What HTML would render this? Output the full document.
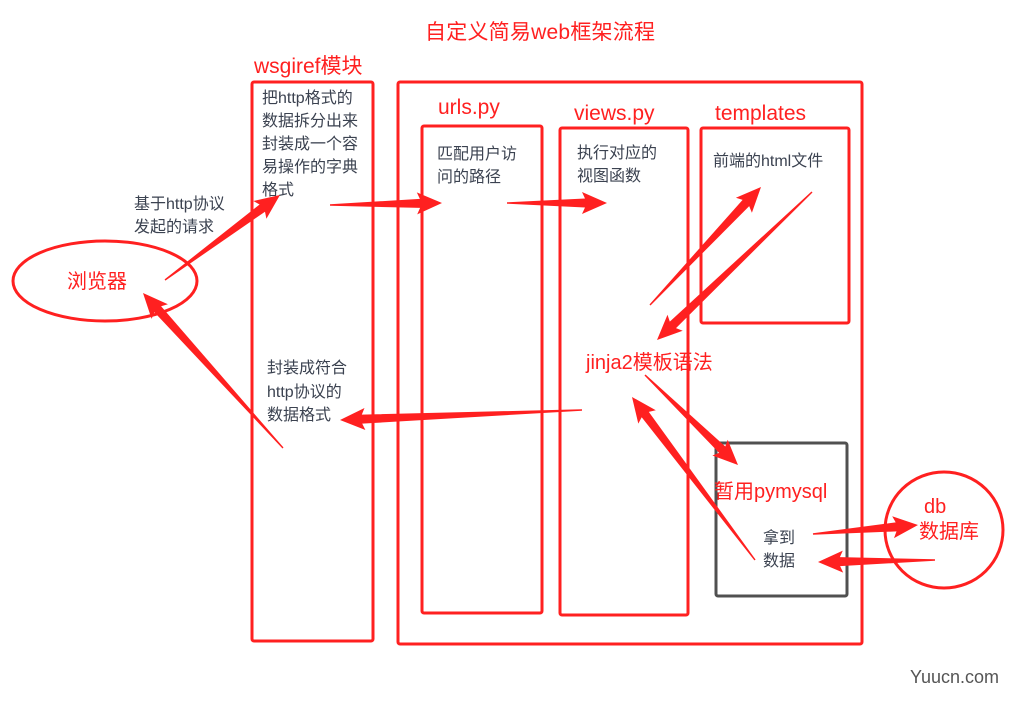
<!DOCTYPE html>
<html><head><meta charset="utf-8"><style>
html,body{margin:0;padding:0;background:#fff;width:1022px;height:707px;overflow:hidden}
svg{display:block}
.r{fill:#ff2020;font-family:"Liberation Sans","Noto Sans CJK SC",sans-serif}
.g{fill:#3b4250;font-family:"Liberation Sans","Noto Sans CJK SC",sans-serif;font-size:16px}
</style></head><body>
<svg id="s" width="1022" height="707" viewBox="0 0 1022 707" xmlns="http://www.w3.org/2000/svg">
<g fill="none" stroke="#ff2020" stroke-width="3">
<rect x="252" y="82" width="121" height="559" rx="2"/>
<rect x="398" y="82" width="464" height="562" rx="2"/>
<rect x="422" y="126" width="120" height="487" rx="2"/>
<rect x="560" y="128" width="128" height="487" rx="2"/>
<rect x="701" y="128" width="148" height="195" rx="2"/>
<ellipse cx="105" cy="281" rx="92" ry="40"/>
<ellipse cx="944" cy="530" rx="59" ry="58"/>
</g>
<rect x="716" y="443" width="131" height="153" rx="2" fill="none" stroke="#505050" stroke-width="3"/>
<text class="r" x="425" y="39" font-size="21" textLength="230">自定义简易web框架流程</text>
<text class="r" x="254" y="73" font-size="21">wsgiref模块</text>
<text class="r" x="438" y="114" font-size="21">urls.py</text>
<text class="r" x="574" y="120" font-size="21">views.py</text>
<text class="r" x="715" y="120" font-size="21">templates</text>
<text class="r" x="67" y="288" font-size="20">浏览器</text>
<text class="r" x="586" y="369" font-size="20">jinja2模板语法</text>
<text class="r" x="714" y="498" font-size="20">暂用pymysql</text>
<text class="r" x="924" y="513" font-size="20">db</text>
<text class="r" x="919" y="538" font-size="20">数据库</text>
<g class="g">
<text x="262" y="103">把http格式的</text>
<text x="262" y="126">数据拆分出来</text>
<text x="262" y="149">封装成一个容</text>
<text x="262" y="172">易操作的字典</text>
<text x="262" y="195">格式</text>
<text x="134" y="209">基于http协议</text>
<text x="134" y="232">发起的请求</text>
<text x="267" y="373">封装成符合</text>
<text x="267" y="397">http协议的</text>
<text x="267" y="420">数据格式</text>
<text x="437" y="159">匹配用户访</text>
<text x="437" y="182">问的路径</text>
<text x="577" y="158">执行对应的</text>
<text x="577" y="181">视图函数</text>
<text x="713" y="166">前端的html文件</text>
<text x="763" y="543">拿到</text>
<text x="763" y="566">数据</text>
</g>
<text x="910" y="683" font-family="Liberation Sans,sans-serif" font-size="18" fill="#555">Yuucn.com</text>
<g id="arrows" fill="#ff2020"></g>
</svg>
<script>
var A=[[165,280,280,195],[330,205,442,203],[507,203,607,203],[650,305,761,187],[812,192,657,340],
[582,410,340,420],[283,448,143,293],[645,375,738,465],[755,560,632,397],[813,534,918,525],[935,560,818,562]];
var g=document.getElementById('arrows'),h='';
A.forEach(function(a){
var x1=a[0],y1=a[1],x2=a[2],y2=a[3],dx=x2-x1,dy=y2-y1,L=Math.sqrt(dx*dx+dy*dy),ux=dx/L,uy=dy/L,nx=-uy,ny=ux;
var hl=22,bw=4.5,hw=11;
var bx=x2-ux*hl,by=y2-uy*hl;
var p=[[x1+nx*0.7,y1+ny*0.7],[bx+nx*bw,by+ny*bw],[bx-ux*3+nx*hw,by-uy*3+ny*hw],[x2,y2],[bx-ux*3-nx*hw,by-uy*3-ny*hw],[bx-nx*bw,by-ny*bw],[x1-nx*0.7,y1-ny*0.7]];
h+='<polygon points="'+p.map(function(q){return q[0].toFixed(1)+','+q[1].toFixed(1)}).join(' ')+'"/>';
});
g.innerHTML=h;
</script>
</body></html>
